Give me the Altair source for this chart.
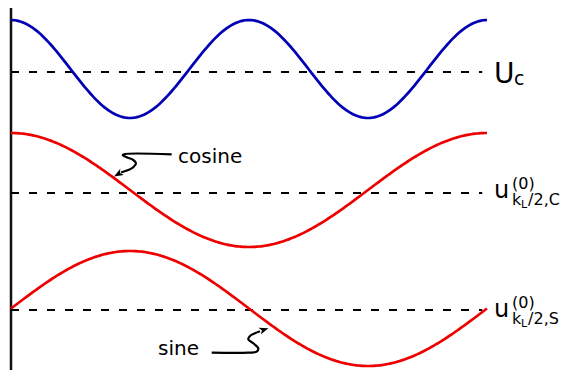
import altair as alt
import numpy as np
import pandas as pd

# ---- data (x in periods, y in arbitrary vertical units) ----
curve_names = ["Uc", "cosine", "sine"]
curve_center = [3.01, 1.80, 0.615]
curve_amp = [0.49, 0.57, 0.575]
curve_periods = [2, 1, 1]
curve_kind = ["cos", "cos", "sin"]
curve_color = ["#0000b4", "#ee0000", "#ee0000"]

dash_levels = [2.98, 1.77, 0.60]
dash_x = [0.0, 0.99]

axis_x = [0.0]
axis_y = [0.0, 3.62]

# label anchors
lab_u = [1.015, 1.015]
lab_v = [1.72, 0.53]
lab_main = ["u", "u"]
lab_sup = ["(0)", "(0)"]
lab_sub = ["k", "k"]
lab_subsub = ["L", "L"]
lab_tail = ["/2,C", "/2,S"]

U_u, U_v = [1.015], [2.875]

ann_text = ["cosine", "sine"]
ann_u = [0.351, 0.309]
ann_v = [2.07, 0.15]

cos_arrow_u = [0.3376, 0.2395, 0.2347, 0.2431, 0.2569, 0.2626, 0.2569, 0.2464, 0.2311]
cos_arrow_v = [2.157, 2.160, 2.150, 2.127, 2.100, 2.067, 2.027, 2.000, 1.975]
cos_tip = (0.2264, 1.962)
sin_arrow_u = [0.4216, 0.4985, 0.5162, 0.5195, 0.5090, 0.4985, 0.5021, 0.5126, 0.5231]
sin_arrow_v = [0.173, 0.173, 0.183, 0.217, 0.267, 0.307, 0.340, 0.367, 0.387]
sin_tip = (0.5300, 0.400)

# ---- build tables ----
t = np.linspace(0, 1, 241)
rows = []
for name, c, a, p, k in zip(curve_names, curve_center, curve_amp, curve_periods, curve_kind):
    f = np.cos if k == "cos" else np.sin
    for ti in t:
        rows.append({"curve": name, "u": ti, "v": c + a * f(2 * np.pi * p * ti)})
curves = pd.DataFrame(rows)

xs = alt.Scale(domain=[-0.0063, 1.1555], nice=False, zero=False)
ys = alt.Scale(domain=[0, 3.62], nice=False, zero=False)
X = lambda f: alt.X(f, scale=xs, axis=None)
Y = lambda f: alt.Y(f, scale=ys, axis=None)

curve_layer = alt.Chart(curves).mark_line(strokeWidth=2.7, clip=False).encode(
    x=X("u:Q"), y=Y("v:Q"),
    color=alt.Color("curve:N", scale=alt.Scale(domain=curve_names, range=curve_color), legend=None),
    detail="curve:N",
)

dashes = pd.DataFrame({"v": dash_levels, "x0": dash_x[0], "x1": dash_x[1]})
dash_layer = alt.Chart(dashes).mark_rule(strokeWidth=2.2, strokeDash=[8, 10], color="black").encode(
    x=X("x0:Q"), x2="x1:Q", y=Y("v:Q")
)

axis_df = pd.DataFrame({"u": axis_x, "y0": axis_y[0], "y1": axis_y[1]})
axis_layer = alt.Chart(axis_df).mark_rule(strokeWidth=2.5, color="#111111").encode(
    x=X("u:Q"), y=Y("y0:Q"), y2="y1:Q"
)

labels = pd.DataFrame({"u": lab_u, "v": lab_v, "main": lab_main, "sup": lab_sup,
                       "sub": lab_sub, "subsub": lab_subsub, "tail": lab_tail})
base_lab = alt.Chart(labels)
F = "DejaVu Sans"
def piece(field, size, dx, dy):
    return base_lab.mark_text(align="left", baseline="alphabetic", font=F, fontSize=size,
                              dx=dx, dy=dy, color="black").encode(
        x=X("u:Q"), y=Y("v:Q"), text=f"{field}:N")

lab_layers = [
    piece("main", 24, 0, 0),
    piece("sup", 16, 18, -9),
    piece("sub", 16, 18, 7),
    piece("subsub", 11, 27, 10),
    piece("tail", 16, 34, 7),
]

Udf = pd.DataFrame({"u": U_u, "v": U_v, "a": ["U"], "b": ["c"]})
U_main = alt.Chart(Udf).mark_text(align="left", baseline="alphabetic", font=F, fontSize=28, color="black").encode(
    x=X("u:Q"), y=Y("v:Q"), text="a:N")
U_sub = alt.Chart(Udf).mark_text(align="left", baseline="alphabetic", font=F, fontSize=19, dx=20, dy=2.5,
                                 color="black").encode(x=X("u:Q"), y=Y("v:Q"), text="b:N")

ann = pd.DataFrame({"u": ann_u, "v": ann_v, "t": ann_text})
ann_layer = alt.Chart(ann).mark_text(align="left", baseline="alphabetic", font=F, fontSize=20, color="black").encode(
    x=X("u:Q"), y=Y("v:Q"), text="t:N")

arrows = pd.concat([
    pd.DataFrame({"a": "cos", "u": cos_arrow_u, "v": cos_arrow_v, "o": range(len(cos_arrow_u))}),
    pd.DataFrame({"a": "sin", "u": sin_arrow_u, "v": sin_arrow_v, "o": range(len(sin_arrow_u))}),
])
arrow_layer = alt.Chart(arrows).mark_line(strokeWidth=2.2, color="black", interpolate="catmull-rom").encode(
    x=X("u:Q"), y=Y("v:Q"), detail="a:N", order="o:Q")

tips = pd.DataFrame({"u": [cos_tip[0], sin_tip[0]], "v": [cos_tip[1], sin_tip[1]], "ang": [240, 72]})
head = "M0,-1 L0.65,0.7 L0,0.25 L-0.65,0.7 Z"
tip_layer = alt.Chart(tips).mark_point(shape=head, filled=True, size=120, color="black", opacity=1).encode(
    x=X("u:Q"), y=Y("v:Q"), angle=alt.Angle("ang:Q", scale=None))

chart = alt.layer(
    axis_layer, dash_layer, curve_layer, arrow_layer, tip_layer, ann_layer, U_main, U_sub, *lab_layers
).properties(width=553, height=362, autosize=alt.AutoSizeParams(type="none"), padding=0
).configure_view(stroke=None)

chart.save("out.html", embed_options={"renderer": "svg", "actions": False})
